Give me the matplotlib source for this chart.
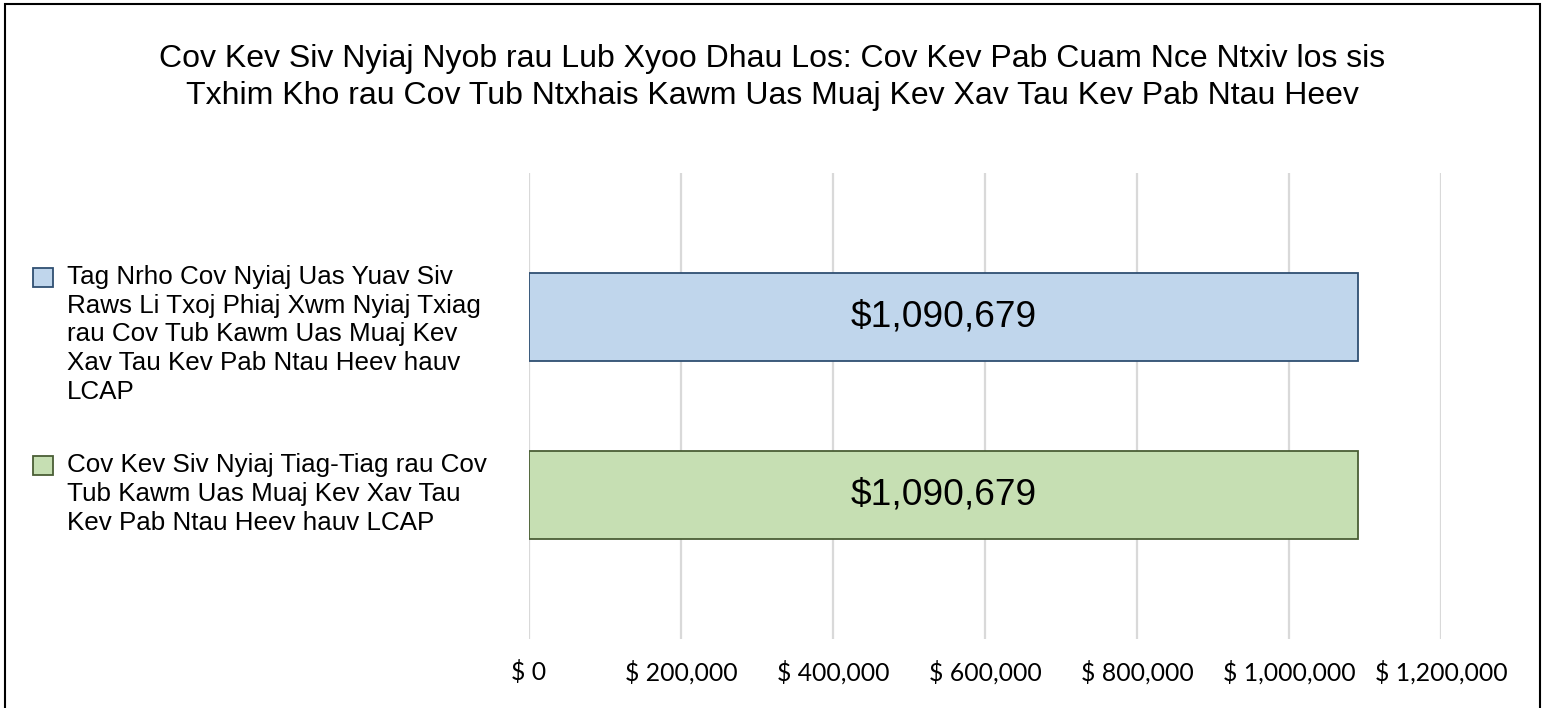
import numpy as np
from matplotlib import pyplot as plt
import matplotlib as mpl
from matplotlib.patches import Rectangle

plt.rcParams['font.family'] = ['Liberation Sans', 'DejaVu Sans']

title = ("Cov Kev Siv Nyiaj Nyob rau Lub Xyoo Dhau Los: Cov Kev Pab Cuam Nce Ntxiv los sis\n"
         "Txhim Kho rau Cov Tub Ntxhais Kawm Uas Muaj Kev Xav Tau Kev Pab Ntau Heev")

# series, top to bottom as shown
labels = [
    "Tag Nrho Cov Nyiaj Uas Yuav Siv\nRaws Li Txoj Phiaj Xwm Nyiaj Txiag\n"
    "rau Cov Tub Kawm Uas Muaj Kev\nXav Tau Kev Pab Ntau Heev hauv\nLCAP",
    "Cov Kev Siv Nyiaj Tiag-Tiag rau Cov\nTub Kawm Uas Muaj Kev Xav Tau\nKev Pab Ntau Heev hauv LCAP",
]
values = [1090679, 1090679]
fills = ["#C0D6EC", "#C6DFB3"]
edges = ["#2F4F72", "#4A5E35"]
xticks = [0, 200000, 400000, 600000, 800000, 1000000, 1200000]

W, H = 1544, 708
fig = plt.figure(figsize=(W / 100, H / 100), dpi=100)
ax = fig.add_axes([529 / W, 1 - 639 / H, 912 / W, 466 / H])

ypos = [1, 0]
ax.barh(ypos, values, height=0.493, color=fills, edgecolor=edges, linewidth=1.3, zorder=3)
for y, v in zip(ypos, values):
    ax.text(v / 2, y, "${:,}".format(v), ha="center", va="center", fontsize=26.7, zorder=4)

ax.set_xlim(0, 1200000)
ax.set_ylim(-0.805, 1.805)
ax.set_xticks(xticks)
ax.set_yticks([])
ax.xaxis.set_major_formatter(mpl.ticker.FuncFormatter(lambda x, p: "$ " + format(int(x), ",")))
for lab in ax.get_xticklabels():
    lab.set_fontfamily("Lato")
    lab.set_fontsize(17.8)
ax.tick_params(axis="x", length=0, pad=15)
ax.grid(axis="x", color="#D9D9D9", linewidth=1.6, zorder=0)
for s in ax.spines.values():
    s.set_visible(False)

fig.text(0.5, 1 - 44 / H, title, ha="center", va="top", fontsize=23, linespacing=1.3)

# legend, drawn by hand so the marker sits on the first line
leg_top = [265, 453]
for lab, fc, ec, yt in zip(labels, fills, edges, leg_top):
    fig.add_artist(Rectangle((33 / W, 1 - (yt + 22) / H), 20 / W, 19 / H,
                             transform=fig.transFigure, facecolor=fc, edgecolor=ec, lw=1.3))
    fig.text(67 / W, 1 - yt / H, lab, ha="left", va="top", fontsize=18.7, linespacing=1.25)

fig.add_artist(Rectangle((5 / W, -0.01), 1535 / W, 1.01 - 4 / H, transform=fig.transFigure,
                         fill=False, edgecolor="black", lw=1.5))

plt.savefig("out.png", dpi=100)
